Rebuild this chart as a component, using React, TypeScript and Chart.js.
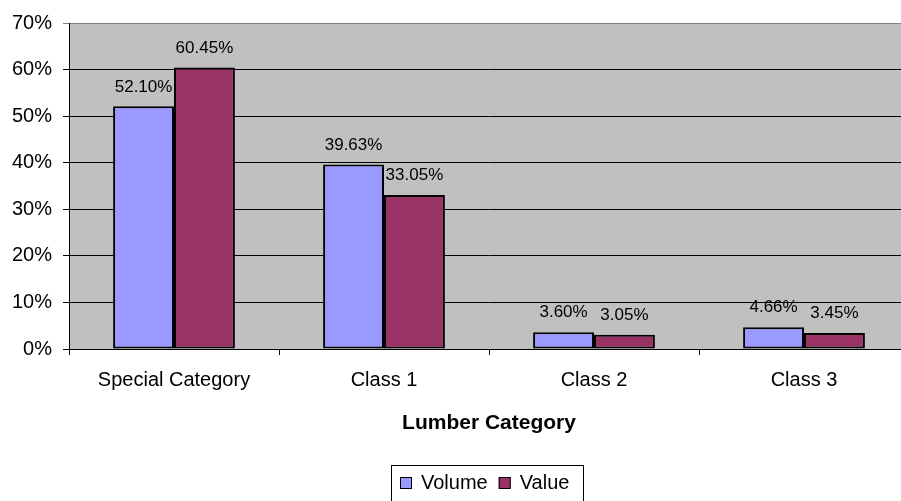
import React, { useEffect, useRef } from "react";
import { Chart, registerables } from "chart.js";

Chart.register(...registerables);

const categories = ["Special Category", "Class 1", "Class 2", "Class 3"];
const volumeValues = [52.1, 39.63, 3.6, 4.66];
const valueValues = [60.45, 33.05, 3.05, 3.45];
const yTicks = [0, 10, 20, 30, 40, 50, 60, 70];
const seriesLabels = ["Volume", "Value"];
const seriesColors = ["#9999FF", "#993366"];
const xTitle = "Lumber Category";

const FONT = '"Liberation Sans", Arial, Helvetica, sans-serif';

export default function App() {
  const ref = useRef<HTMLCanvasElement>(null);

  useEffect(() => {
    const canvas = ref.current!;

    const bgPlugin = {
      id: "plotBg",
      beforeDraw(chart: any) {
        const { ctx, chartArea: a } = chart;
        ctx.save();
        ctx.fillStyle = "#C0C0C0";
        ctx.fillRect(a.left, a.top, a.right - a.left, a.bottom - a.top);
        ctx.restore();
      },
    };

    const labelPlugin = {
      id: "barLabels",
      afterDatasetsDraw(chart: any) {
        const ctx = chart.ctx;
        ctx.save();
        ctx.font = `17px ${FONT}`;
        ctx.fillStyle = "#000";
        ctx.textAlign = "center";
        ctx.textBaseline = "middle";
        chart.data.datasets.forEach((ds: any, i: number) => {
          const meta = chart.getDatasetMeta(i);
          meta.data.forEach((bar: any, j: number) => {
            const v = ds.data[j] as number;
            ctx.fillText(v.toFixed(2) + "%", bar.x, bar.y - 19.5);
          });
        });
        ctx.restore();
      },
    };

    const legendPlugin = {
      id: "boxLegend",
      afterDraw(chart: any) {
        const { ctx, chartArea: a } = chart;
        ctx.save();
        ctx.font = `20px ${FONT}`;
        const sw = 12,
          textGap = 9,
          itemGap = 11,
          padL = 9,
          padR = 14;
        const items = chart.data.datasets.map((ds: any) => ({
          text: ds.label,
          color: ds.backgroundColor,
          w: ctx.measureText(ds.label).width,
        }));
        const total =
          padL +
          padR +
          items.reduce((s: number, it: any) => s + sw + textGap + it.w, 0) +
          itemGap * (items.length - 1);
        const cx = (a.left + a.right) / 2 - 2;
        const left = Math.round(cx - total / 2);
        const boxTop = Math.round(a.bottom + 116);
        ctx.strokeStyle = "#000";
        ctx.lineWidth = 1;
        ctx.strokeRect(left + 0.5, boxTop + 0.5, Math.round(total), 60);
        const cy = boxTop + 18;
        let x = left + padL;
        ctx.textAlign = "left";
        ctx.textBaseline = "middle";
        items.forEach((it: any) => {
          ctx.fillStyle = it.color;
          ctx.fillRect(x, Math.round(cy - sw / 2), sw, sw);
          ctx.strokeRect(x + 0.5, Math.round(cy - sw / 2) + 0.5, sw - 1, sw - 1);
          ctx.fillStyle = "#000";
          ctx.fillText(it.text, x + sw + textGap, cy);
          x += sw + textGap + it.w + itemGap;
        });
        ctx.restore();
      },
    };

    const chart = new Chart(canvas, {
      type: "bar",
      data: {
        labels: categories,
        datasets: [
          {
            label: seriesLabels[0],
            data: volumeValues,
            backgroundColor: seriesColors[0],
            borderColor: "#000",
            borderWidth: 2,
            borderSkipped: false,
            categoryPercentage: 0.58,
            barPercentage: 1,
          },
          {
            label: seriesLabels[1],
            data: valueValues,
            backgroundColor: seriesColors[1],
            borderColor: "#000",
            borderWidth: 2,
            borderSkipped: false,
            categoryPercentage: 0.58,
            barPercentage: 1,
          },
        ],
      },
      options: {
        responsive: false,
        animation: false,
        devicePixelRatio: 1,
        font: { family: FONT },
        layout: { padding: { left: 0, right: 21, top: 21, bottom: 62 } },
        plugins: {
          legend: { display: false },
          tooltip: { enabled: false },
        },
        scales: {
          x: {
            type: "category",
            grid: {
              display: true,
              drawOnChartArea: false,
              drawTicks: true,
              tickLength: 6,
              color: "#000",
              offset: true,
            },
            border: { display: true, color: "#000", width: 1 },
            ticks: {
              font: { family: FONT, size: 20 },
              color: "#000",
              padding: 13,
              maxRotation: 0,
              autoSkip: false,
            },
            title: {
              display: true,
              text: xTitle,
              font: { family: FONT, size: 21, weight: "bold" },
              color: "#000",
              padding: { top: 0, bottom: 3 },
            },
            afterFit: (s: any) => {
              s.height = 90;
            },
          },
          y: {
            min: 0,
            max: 70,
            afterBuildTicks: (s: any) => {
              s.ticks = yTicks.map((v) => ({ value: v }));
            },
            grid: {
              color: (c: any) => (c.tick && c.tick.value === 70 ? "#808080" : "#000"),
              lineWidth: 1,
              drawTicks: true,
              tickLength: 6,
            },
            border: { display: true, color: "#000", width: 1 },
            ticks: {
              font: { family: FONT, size: 20 },
              color: "#000",
              padding: 11,
              callback: (v: any) => v + "%",
            },
            afterFit: (s: any) => {
              s.width = 69;
            },
          },
        },
      },
      plugins: [bgPlugin, labelPlugin, legendPlugin],
    } as any);

    return () => chart.destroy();
  }, []);

  return (
    <div
      style={{
        position: "fixed",
        left: 0,
        top: 0,
        width: 901,
        height: 501,
        overflow: "hidden",
        background: "#fff",
      }}
    >
      <canvas ref={ref} width={930} height={501} style={{ display: "block" }} />
    </div>
  );
}
